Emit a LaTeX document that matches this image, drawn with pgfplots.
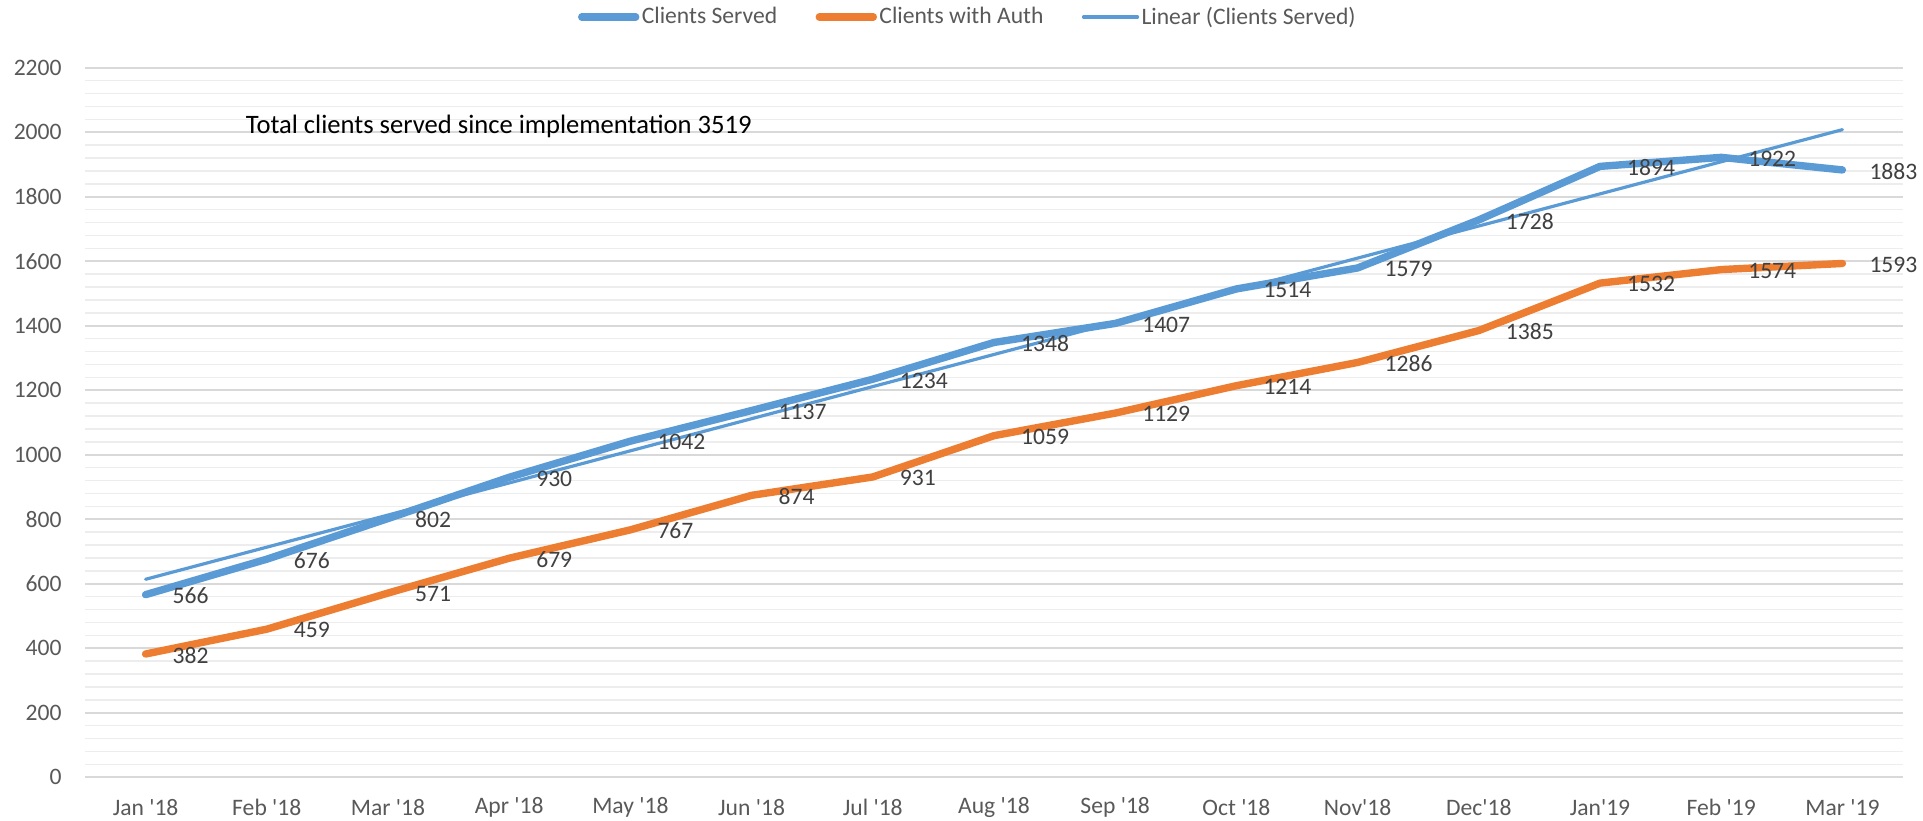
\documentclass[border=0pt]{standalone}
\usepackage{fontspec}
\setmainfont{Carlito}
\usepackage{pgfplots}
\pgfplotsset{compat=1.18}
\definecolor{cblue}{HTML}{5B9BD5}
\definecolor{corange}{HTML}{ED7D31}
\definecolor{ticktext}{HTML}{595959}
\definecolor{labeltext}{HTML}{404040}
\definecolor{majgrid}{HTML}{D9D9D9}
\definecolor{mingrid}{HTML}{EDEDED}
\newcommand\q{\textquotesingle}
\newcommand\fs{\fontsize{11.8}{14}\selectfont}
\begin{document}
\begin{tikzpicture}
\begin{axis}[
  scale only axis,
  width=909pt, height=354.75pt,
  xmin=-0.5, xmax=14.5, ymin=0, ymax=2200,
  clip=false,
  axis line style={draw=none},
  major tick length=0pt, minor tick length=0pt,
  tick style={draw=none},
  xtick={0,...,14},
  xticklabels={Jan \q18, Feb \q18, Mar \q18, Apr \q18, May \q18, Jun \q18, Jul \q18, Aug \q18, Sep \q18, Oct \q18, Nov\q18, Dec\q18, Jan\q19, Feb \q19, Mar \q19},
  ytick={0,200,...,2200},
  minor y tick num=4,
  ymajorgrids, yminorgrids,
  major grid style={draw=majgrid, line width=0.9pt},
  minor grid style={draw=mingrid, line width=0.8pt},
  /pgf/number format/.cd, 1000 sep={}, assume math mode=true,
  /pgfplots/.cd,
  yticklabel style={anchor=east, inner sep=0pt, xshift=-11.5pt, font=\fs, text=ticktext},
  xticklabel style={anchor=center, inner sep=0pt, yshift=-15pt, font=\fs, text=ticktext},
  legend style={at={(0.4857,1.0715)}, anchor=center, draw=none, fill=none,
    inner sep=0pt, legend columns=3, font=\fs, text=ticktext,
    nodes={inner sep=1.2pt},
    /tikz/every even column/.append style={column sep=18pt}},
  legend image code/.code={\draw[#1] (0pt,0pt) -- (27pt,0pt);},
  every node near coord/.append style={anchor=west, inner sep=0pt, xshift=11.7pt, yshift=-0.6pt, font=\fs, text=labeltext},
]
\addplot[cblue, line width=3.7pt, line cap=round, line join=round,
  nodes near coords] coordinates {
  (0,566) (1,676) (2,802) (3,930) (4,1042) (5,1137) (6,1234) (7,1348)
  (8,1407) (9,1514) (10,1579) (11,1728) (12,1894) (13,1922) (14,1883)};
\addlegendentry{Clients Served}
\addplot[corange, line width=3.7pt, line cap=round, line join=round,
  nodes near coords] coordinates {
  (0,382) (1,459) (2,571) (3,679) (4,767) (5,874) (6,931) (7,1059)
  (8,1129) (9,1214) (10,1286) (11,1385) (12,1532) (13,1574) (14,1593)};
\addlegendentry{Clients with Auth}
\addplot[cblue, line width=1.6pt, line cap=round] coordinates {
  (0,613.7) (14,2007.9)};
\addlegendentry{Linear (Clients Served)}
\node[anchor=west, inner sep=0pt, font=\fontsize{13.3}{16}\selectfont, text=black]
  at (rel axis cs:0.0883,0.9178) {Total clients served since implementation 3519};
\end{axis}
\pgfresetboundingbox
\path (-42.5pt,-21.4pt) rectangle (919pt,388.6pt);
\end{tikzpicture}
\end{document}
